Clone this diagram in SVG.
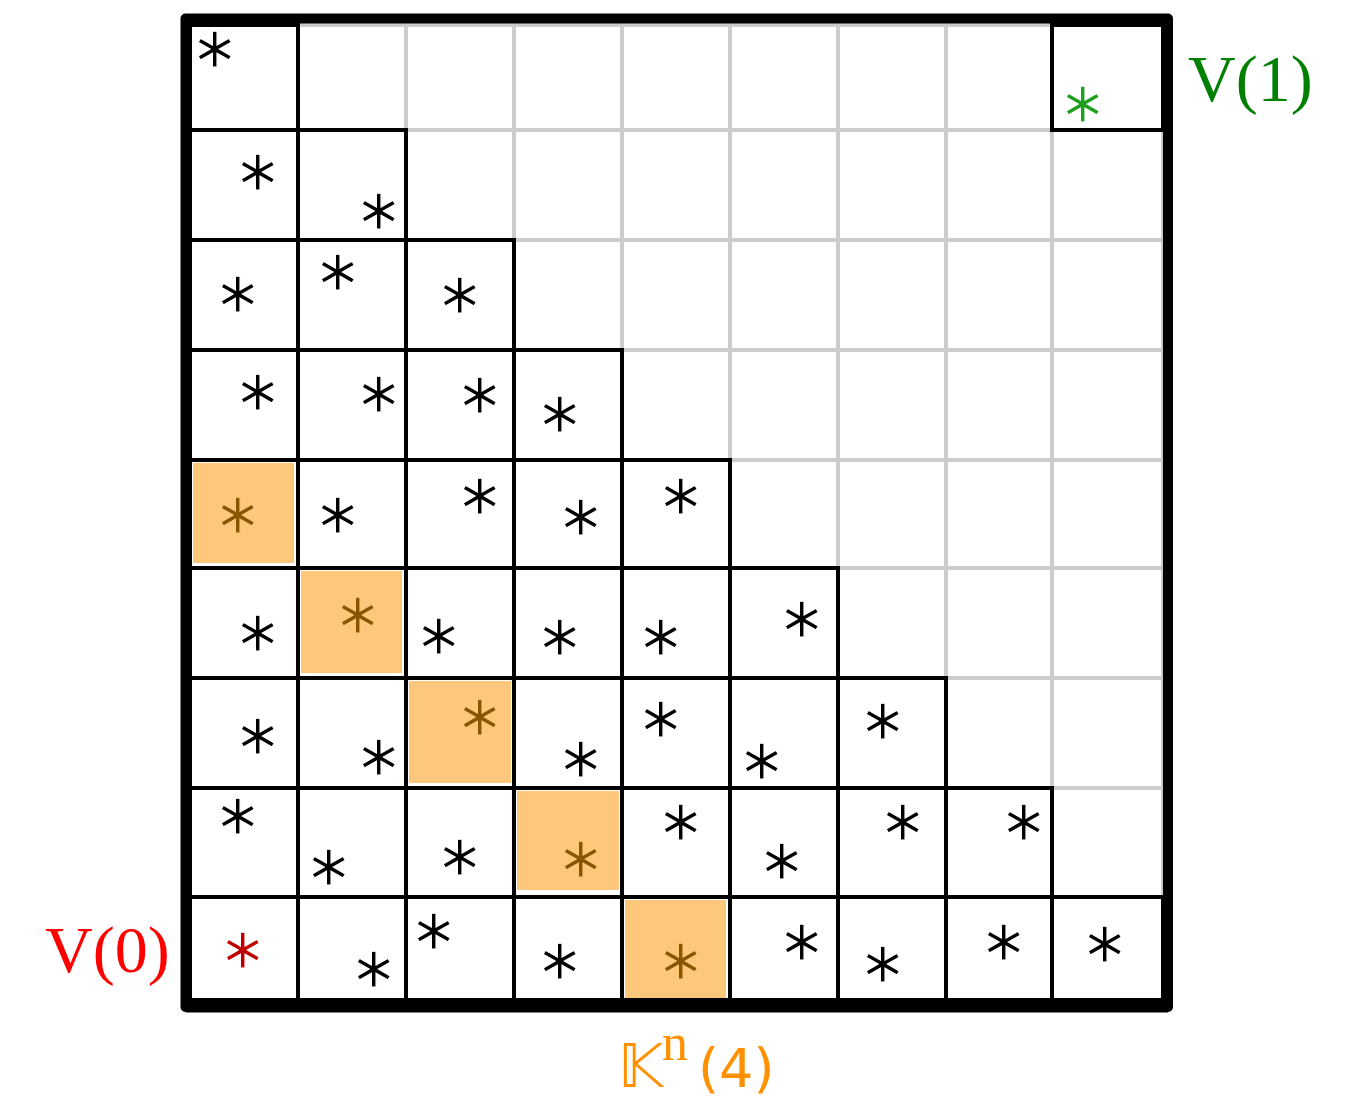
<svg xmlns="http://www.w3.org/2000/svg" width="1358" height="1110" viewBox="0 0 1358 1110">
<style>
.g{stroke:#cccccc;stroke-width:4;fill:none}
.c{fill:#ffffff;stroke:#000;stroke-width:4}
.o{fill:#fdc87c;stroke:none}
.a{font-family:"DejaVu Sans",sans-serif;font-size:57px;text-anchor:middle;fill:#000;stroke:#fff;stroke-width:1.2}
.ao{fill:#8a5500;stroke:#fdc87c}
.ar{fill:#c00000}
.ag{fill:#1f9f1f}
.lab{font-family:"Liberation Serif",serif;font-size:66px}
</style>
<rect width="1358" height="1110" fill="#fff"/>
<g id="grid">
<path class="g" d="M190 25V1000M298 25V1000M406 25V1000M514 25V1000M622 25V1000M730 25V1000M838 25V1000M946 25V1000M1052 25V1000M1163 25V1000M190 25H1163M190 130H1163M190 240H1163M190 350H1163M190 460H1163M190 568H1163M190 678H1163M190 788H1163M190 897H1163M190 1000H1163"/>
</g>
<g id="cells">
<rect class="c" x="190" y="25" width="108" height="105"/>
<rect class="c" x="1052" y="25" width="111" height="105"/>
<rect class="c" x="190" y="130" width="108" height="110"/><rect class="c" x="298" y="130" width="108" height="110"/>
<rect class="c" x="190" y="240" width="108" height="110"/><rect class="c" x="298" y="240" width="108" height="110"/><rect class="c" x="406" y="240" width="108" height="110"/>
<rect class="c" x="190" y="350" width="108" height="110"/><rect class="c" x="298" y="350" width="108" height="110"/><rect class="c" x="406" y="350" width="108" height="110"/><rect class="c" x="514" y="350" width="108" height="110"/>
<rect class="c" x="190" y="460" width="108" height="108"/><rect class="c" x="298" y="460" width="108" height="108"/><rect class="c" x="406" y="460" width="108" height="108"/><rect class="c" x="514" y="460" width="108" height="108"/><rect class="c" x="622" y="460" width="108" height="108"/>
<rect class="c" x="190" y="568" width="108" height="110"/><rect class="c" x="298" y="568" width="108" height="110"/><rect class="c" x="406" y="568" width="108" height="110"/><rect class="c" x="514" y="568" width="108" height="110"/><rect class="c" x="622" y="568" width="108" height="110"/><rect class="c" x="730" y="568" width="108" height="110"/>
<rect class="c" x="190" y="678" width="108" height="110"/><rect class="c" x="298" y="678" width="108" height="110"/><rect class="c" x="406" y="678" width="108" height="110"/><rect class="c" x="514" y="678" width="108" height="110"/><rect class="c" x="622" y="678" width="108" height="110"/><rect class="c" x="730" y="678" width="108" height="110"/><rect class="c" x="838" y="678" width="108" height="110"/>
<rect class="c" x="190" y="788" width="108" height="109"/><rect class="c" x="298" y="788" width="108" height="109"/><rect class="c" x="406" y="788" width="108" height="109"/><rect class="c" x="514" y="788" width="108" height="109"/><rect class="c" x="622" y="788" width="108" height="109"/><rect class="c" x="730" y="788" width="108" height="109"/><rect class="c" x="838" y="788" width="108" height="109"/><rect class="c" x="946" y="788" width="106" height="109"/>
<rect class="c" x="190" y="897" width="108" height="103"/><rect class="c" x="298" y="897" width="108" height="103"/><rect class="c" x="406" y="897" width="108" height="103"/><rect class="c" x="514" y="897" width="108" height="103"/><rect class="c" x="622" y="897" width="108" height="103"/><rect class="c" x="730" y="897" width="108" height="103"/><rect class="c" x="838" y="897" width="108" height="103"/><rect class="c" x="946" y="897" width="106" height="103"/><rect class="c" x="1052" y="897" width="111" height="103"/>
</g>
<g id="highlight">
<rect class="o" x="193" y="463" width="101" height="100"/>
<rect class="o" x="301" y="571" width="101" height="102"/>
<rect class="o" x="409" y="681" width="102" height="102"/>
<rect class="o" x="517" y="791" width="102" height="99"/>
<rect class="o" x="625" y="900" width="101" height="98"/>
</g>
<path id="frame" d="M185.5 18.5H1168V1007H185.5Z" fill="none" stroke="#000" stroke-width="10" stroke-linejoin="round"/>
<path d="M186 1006.5H1168" stroke="#000" stroke-width="12"/>
<g id="entries">
<text class="a" x="215" y="67">∗</text>
<text class="a ag" x="1083" y="122">∗</text>
<text class="a" x="258" y="190">∗</text><text class="a" x="379" y="229">∗</text>
<text class="a" x="238" y="312">∗</text><text class="a" x="338" y="290">∗</text><text class="a" x="460" y="313">∗</text>
<text class="a" x="258" y="410">∗</text><text class="a" x="379" y="412">∗</text><text class="a" x="480" y="413">∗</text><text class="a" x="560" y="432">∗</text>
<text class="a ao" x="238" y="533">∗</text><text class="a" x="338" y="533">∗</text><text class="a" x="480" y="514">∗</text><text class="a" x="581" y="535">∗</text><text class="a" x="681" y="514">∗</text>
<text class="a" x="258" y="651">∗</text><text class="a ao" x="358" y="633">∗</text><text class="a" x="439" y="654">∗</text><text class="a" x="560" y="655">∗</text><text class="a" x="661" y="655">∗</text><text class="a" x="802" y="637">∗</text>
<text class="a" x="258" y="754">∗</text><text class="a" x="379" y="775">∗</text><text class="a ao" x="480" y="735">∗</text><text class="a" x="581" y="777">∗</text><text class="a" x="661" y="737">∗</text><text class="a" x="762" y="779">∗</text><text class="a" x="883" y="739">∗</text>
<text class="a" x="238" y="834">∗</text><text class="a" x="329" y="885">∗</text><text class="a" x="460" y="875">∗</text><text class="a ao" x="581" y="877">∗</text><text class="a" x="681" y="840">∗</text><text class="a" x="782" y="879">∗</text><text class="a" x="903" y="840">∗</text><text class="a" x="1024" y="840">∗</text>
<text class="a ar" x="243" y="968">∗</text><text class="a" x="374" y="987">∗</text><text class="a" x="434" y="949">∗</text><text class="a" x="560" y="979">∗</text><text class="a ao" x="681" y="979">∗</text><text class="a" x="802" y="960">∗</text><text class="a" x="883" y="982">∗</text><text class="a" x="1004" y="960">∗</text><text class="a" x="1105" y="962">∗</text>
</g>
<g id="labels">
<text class="lab" x="1188" y="101" fill="#008000">V(1)</text>
<text class="lab" x="45" y="972" fill="#ff0000">V(0)</text>
<text fill="#ff9000" font-family="DejaVu Sans, sans-serif"><tspan x="618" y="1087" font-size="60px">𝕂</tspan><tspan x="662" y="1060" font-size="52px" font-family="Liberation Serif, serif">n</tspan><tspan x="698" y="1087" font-size="54px">(4)</tspan></text>
</g>
</svg>
